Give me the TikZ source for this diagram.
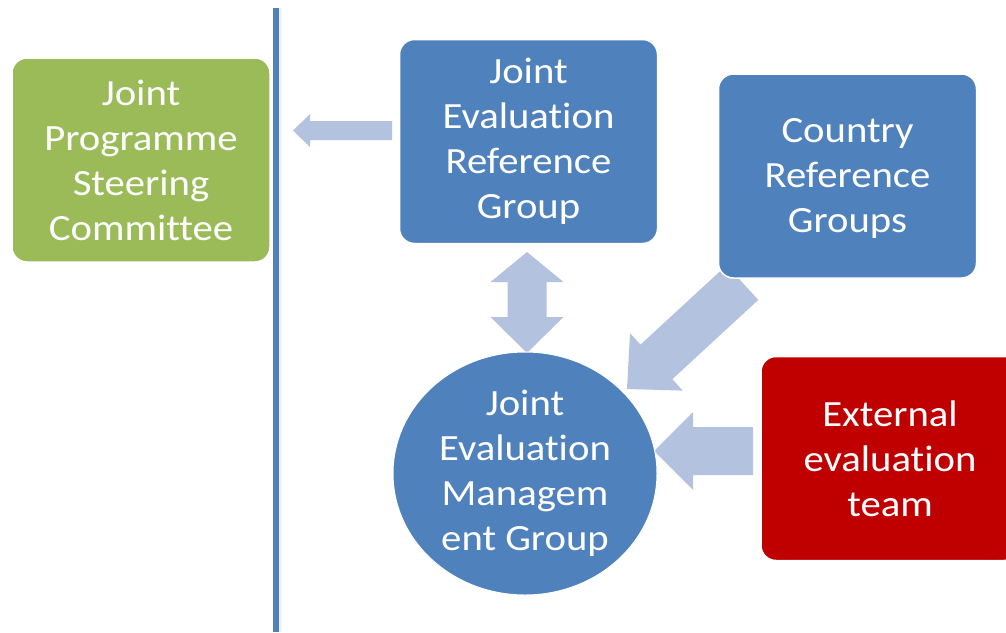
\documentclass[tikz,border=0pt]{standalone}
\usepackage{fontspec}
\setmainfont{Carlito}[FakeStretch=1.1,Ligatures=NoCommon]
\usetikzlibrary{shapes.geometric}
\definecolor{boxblue}{RGB}{79,129,189}
\definecolor{boxgreen}{RGB}{155,187,89}
\definecolor{boxred}{RGB}{192,0,0}
\definecolor{arrowblue}{RGB}{179,195,223}
\begin{document}
\begin{tikzpicture}[x=1pt,y=-1pt,
  blk/.style={rectangle, rounded corners=15pt, draw=white, line width=1.5pt,
    minimum width=258pt, minimum height=204pt, inner sep=0pt, text=white,
    align=center, font=\fontsize{37}{45}\selectfont},
  blockarrow/.style={fill=arrowblue}]
\useasboundingbox (0,0) rectangle (1006,632);
\begin{scope}
\clip (0,0) rectangle (1006,632);
% divider line
\fill[black!5] (279,8) rectangle (281.5,632);
\fill[boxblue] (273,8) rectangle (279,632);
% block arrows
\fill[blockarrow] (293,130.5) -- (310,114) -- (310,121) -- (392,121) -- (392,140) -- (310,140) -- (310,147) -- cycle;
\fill[blockarrow] (527,252) -- (563.5,282) -- (546.5,282) -- (546.5,317) -- (563.5,317) -- (527,353) -- (490.5,317) -- (507.5,317) -- (507.5,282) -- (490.5,282) -- cycle;
\fill[blockarrow] (627,389) -- (682.8,390.6) -- (672.3,379.2) -- (758.3,299.9) -- (726.5,265.3) -- (640.5,344.6) -- (630,333.2) -- cycle;
\fill[blockarrow] (654,451) -- (693,412) -- (693,427) -- (753,427) -- (753,475) -- (693,475) -- (693,490) -- cycle;
% nodes
\node[blk, fill=boxgreen] (jpsc) at (141,160) {Joint\\Programme\\Steering\\Committee};
\node[blk, fill=boxblue] (jerg) at (528.5,141.5) {Joint\\Evaluation\\Reference\\Group};
\node[blk, fill=boxblue] (crg) at (847.5,176) {\rule{0pt}{29pt}Country\\Reference\\Groups};
\node[blk, fill=boxred] (eet) at (890,458.5) {External\\evaluation\\team};
\node[ellipse, fill=boxblue, draw=white, line width=1pt, minimum width=264pt, minimum height=243pt,
  inner sep=0pt, text=white, align=center, font=\fontsize{37}{45}\selectfont] (jemg) at (525,473.5)
  {Joint\\Evaluation\\Managem\\ent Group};
\end{scope}
\end{tikzpicture}
\end{document}
